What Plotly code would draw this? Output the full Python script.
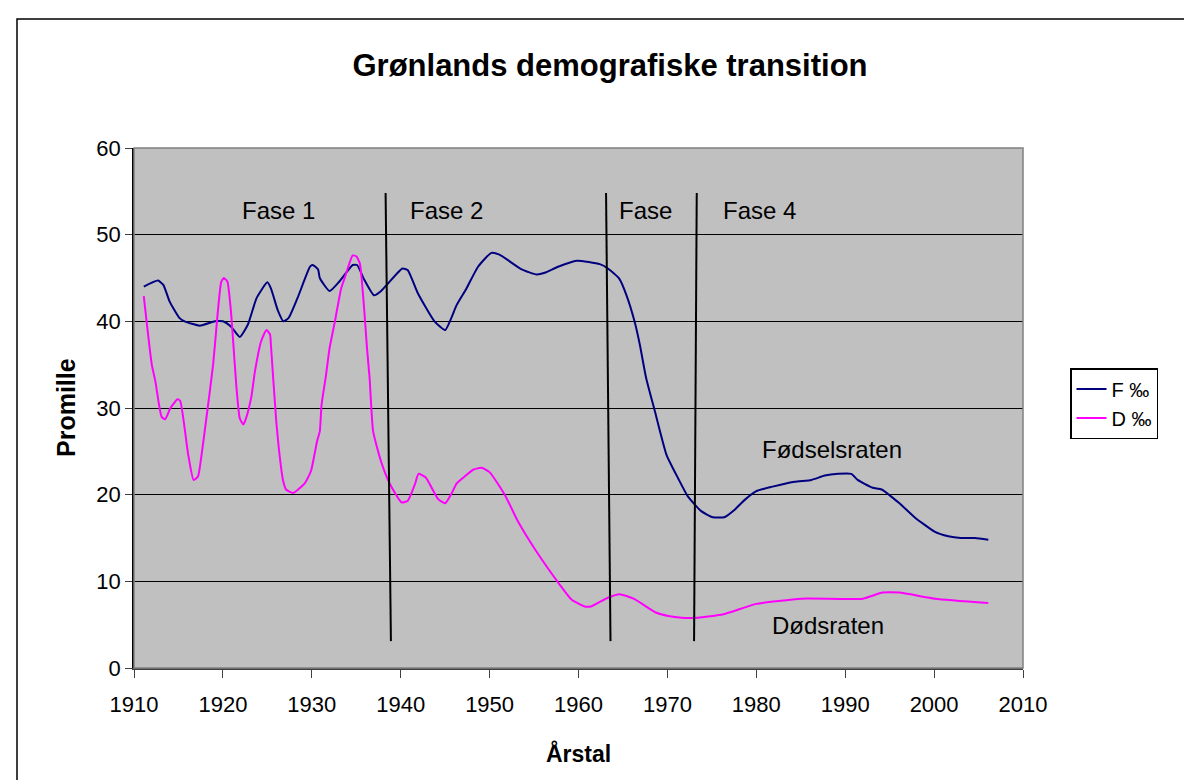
import plotly.graph_objects as go

# ---- data ----
f_years = [1911.1, 1912.7, 1913.3, 1914.0, 1915.1, 1915.7, 1917.4, 1919.1, 1920.0, 1920.9,
           1921.9, 1922.8, 1923.8, 1925.0, 1925.4, 1926.2, 1926.8, 1927.4, 1928.4, 1929.8,
           1930.1, 1930.7, 1930.9, 1932.0, 1933.1, 1934.6, 1935.1, 1935.9, 1937.0, 1937.8,
           1938.6, 1940.2, 1940.8, 1941.9, 1943.8, 1945.0, 1946.3, 1947.4, 1948.7, 1950.2,
           1951.1, 1953.6, 1955.3, 1956.2, 1957.7, 1959.8, 1962.4, 1963.3, 1964.6, 1965.4,
           1966.3, 1966.9, 1967.6, 1968.6, 1969.9, 1971.2, 1972.3, 1973.8, 1975.1, 1976.4,
           1977.6, 1978.7, 1980.0, 1981.7, 1984.3, 1986.2, 1987.7, 1989.2, 1990.7, 1991.4,
           1993.1, 1994.1, 1996.1, 1997.8, 2000.1, 2001.6, 2003.0, 2004.6, 2006.1]
f_values = [44.0, 44.7, 44.2, 42.3, 40.4, 40.0, 39.5, 40.0, 40.0, 39.4,
            38.2, 39.6, 42.7, 44.5, 43.8, 41.2, 40.0, 40.4, 42.7, 46.3,
            46.5, 46.0, 45.0, 43.5, 44.6, 46.5, 46.5, 44.8, 43.0, 43.5,
            44.4, 46.1, 45.9, 43.3, 40.0, 39.0, 41.9, 43.8, 46.3, 47.9,
            47.7, 46.0, 45.4, 45.6, 46.3, 47.0, 46.6, 46.1, 44.9, 43.0,
            40.0, 37.3, 33.5, 29.6, 24.6, 21.9, 19.8, 18.1, 17.4, 17.4,
            18.3, 19.4, 20.4, 20.9, 21.5, 21.7, 22.2, 22.4, 22.4, 21.7,
            20.8, 20.6, 19.0, 17.4, 15.7, 15.2, 15.0, 15.0, 14.8]

d_years = [1911.1, 1912.0, 1912.4, 1913.1, 1913.5, 1914.1, 1914.9, 1915.2, 1916.1, 1916.7,
           1917.2, 1917.6, 1918.1, 1918.9, 1919.4, 1919.6, 1919.8, 1920.1, 1920.5, 1920.9,
           1921.1, 1921.5, 1921.9, 1922.3, 1922.6, 1923.2, 1923.6, 1924.3, 1924.9, 1925.3,
           1925.4, 1926.0, 1926.6, 1926.8, 1927.1, 1927.9, 1929.2, 1929.9, 1930.6, 1930.9,
           1931.1, 1931.6, 1932.0, 1932.6, 1933.3, 1933.7, 1934.6, 1935.0, 1935.4, 1935.9,
           1936.2, 1936.5, 1936.9, 1937.8, 1938.8, 1940.1, 1940.8, 1941.6, 1942.0, 1942.8,
           1944.2, 1945.0, 1945.7, 1946.3, 1947.2, 1948.2, 1949.1, 1950.0, 1951.7, 1953.2,
           1955.1, 1957.9, 1959.2, 1960.7, 1961.4, 1963.3, 1964.6, 1966.2, 1968.7, 1970.1,
           1971.6, 1973.4, 1976.3, 1980.0, 1985.1, 1992.0, 1994.2, 1996.1, 2000.1, 2006.1]
d_values = [42.9, 35.0, 33.1, 29.0, 28.7, 30.0, 31.0, 30.8, 24.6, 21.7,
            22.1, 24.6, 28.5, 35.0, 40.8, 42.9, 44.5, 45.0, 44.6, 41.2,
            38.5, 32.7, 28.8, 28.1, 28.8, 31.3, 34.2, 37.7, 39.0, 38.5,
            37.3, 28.5, 22.7, 21.5, 20.6, 20.2, 21.3, 22.7, 26.2, 27.3,
            30.4, 33.8, 36.9, 40.0, 43.8, 45.0, 47.6, 47.5, 46.7, 41.3,
            37.0, 33.5, 27.3, 23.8, 21.2, 19.1, 19.3, 21.2, 22.4, 22.0,
            19.5, 19.0, 20.1, 21.3, 22.1, 22.9, 23.1, 22.6, 20.0, 16.9,
            13.7, 9.6, 7.9, 7.1, 7.1, 8.1, 8.5, 8.0, 6.4, 6.0,
            5.8, 5.8, 6.2, 7.4, 8.0, 8.0, 8.7, 8.7, 8.0, 7.5]

series_names = ["F \u2030", "D \u2030"]
phase_top_x = [1938.3, 1963.1, 1973.3]
phase_bottom_x = [1938.9, 1963.6, 1973.0]
phase_top_y = 54.8
phase_bottom_y = 3.1
phase_labels = ["Fase 1", "Fase 2", "Fase", "Fase 4"]
phase_label_x = [1926.2, 1945.2, 1967.5, 1980.4]
phase_label_y = 52.8
curve_labels = ["F\u00f8dselsraten", "D\u00f8dsraten"]
curve_label_x = [1988.5, 1988.1]
curve_label_y = [25.2, 4.85]
x_ticks = list(range(1910, 2011, 10))
y_ticks = list(range(0, 61, 10))

FONT = "Liberation Sans, Arial, sans-serif"

fig = go.Figure()
fig.add_trace(go.Scatter(x=f_years, y=f_values, mode="lines", name=series_names[0],
                         line=dict(color="#000080", width=2, shape="spline", smoothing=0.5)))
fig.add_trace(go.Scatter(x=d_years, y=d_values, mode="lines", name=series_names[1],
                         line=dict(color="#FF00FF", width=2, shape="spline", smoothing=0.5)))

for xt, xb in zip(phase_top_x, phase_bottom_x):
    fig.add_trace(go.Scatter(x=[xt, xb], y=[phase_top_y, phase_bottom_y], mode="lines",
                             line=dict(color="black", width=2), showlegend=False,
                             hoverinfo="skip"))

annotations = []
for txt, xx in zip(phase_labels, phase_label_x):
    annotations.append(dict(x=xx, y=phase_label_y, xref="x", yref="y", text=txt,
                            showarrow=False, font=dict(size=24, color="black", family=FONT)))
for txt, xx, yy in zip(curve_labels, curve_label_x, curve_label_y):
    annotations.append(dict(x=xx, y=yy, xref="x", yref="y", text=txt,
                            showarrow=False, font=dict(size=24, color="black", family=FONT)))
# axis titles
annotations.append(dict(x=(570 - 126) / 889, y=(660 - 745) / 520, xref="paper", yref="paper",
                        xanchor="center", yanchor="middle",
                        text="<b>\u00c5rstal</b>", showarrow=False,
                        font=dict(size=23, color="black", family=FONT)))
annotations.append(dict(x=(58 - 126) / 889, y=0.5, xref="paper", yref="paper",
                        xanchor="center", yanchor="middle",
                        text="<b>Promille</b>", showarrow=False, textangle=-90,
                        font=dict(size=25, color="black", family=FONT)))

shapes = [
    dict(type="rect", xref="paper", yref="paper", x0=0, y0=0, x1=1, y1=1,
         line=dict(color="#808080", width=1.5), layer="above"),
    dict(type="rect", xref="paper", yref="paper",
         x0=(9 - 126) / 889, y0=(660 - 790) / 520, x1=(1200 - 126) / 889, y1=(660 - 11) / 520,
         line=dict(color="black", width=1.5)),
]

fig.update_layout(
    width=1192, height=780,
    margin=dict(l=126, r=177, t=140, b=120),
    paper_bgcolor="white", plot_bgcolor="#C0C0C0",
    font=dict(family=FONT, color="black", size=22),
    title=dict(text="<b>Gr\u00f8nlands demografiske transition</b>", x=602 / 1192, xref="container",
               xanchor="center", y=1 - 57 / 780, yanchor="middle", yref="container",
               font=dict(size=31, family=FONT, color="black")),
    showlegend=True,
    legend=dict(x=(1062 - 126) / 889, y=(660 - 360) / 520, xanchor="left", yanchor="top",
                bordercolor="black", borderwidth=1.5, bgcolor="white",
                font=dict(size=20, family=FONT, color="black"), tracegroupgap=0,
                itemwidth=30),
    annotations=annotations,
    shapes=shapes,
)
fig.update_xaxes(range=[1910, 2010], tickvals=x_ticks, ticks="outside", ticklen=8,
                 tickcolor="#404040", showgrid=False, zeroline=False, showline=True,
                 linecolor="#404040", linewidth=1.5, ticklabelstandoff=8,
                 tickfont=dict(size=22, family=FONT))
fig.update_yaxes(range=[0, 60], tickvals=y_ticks, ticks="outside", ticklen=7,
                 tickcolor="#404040", showgrid=True, gridcolor="black", gridwidth=1,
                 zeroline=False, showline=True, linecolor="black", linewidth=1.5,
                 tickfont=dict(size=22, family=FONT))

fig.write_html("out.html")
